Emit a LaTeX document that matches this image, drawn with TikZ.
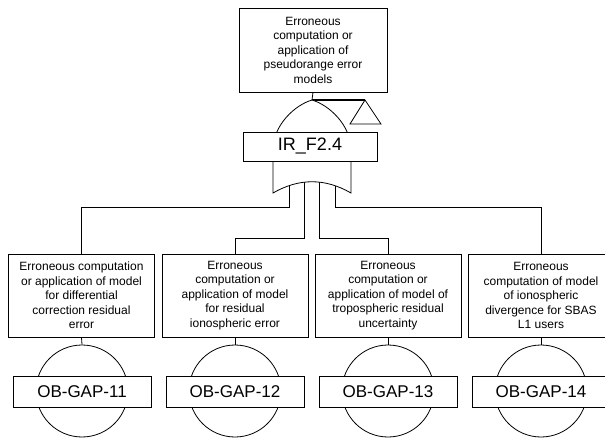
\documentclass[tikz,border=0pt]{standalone}
\usepackage{fontspec}
\setmainfont{Liberation Sans}
\begin{document}
\begin{tikzpicture}[x=1pt,y=-1pt,
  evbox/.style={draw, line width=0.8pt, fill=white, minimum width=146pt, minimum height=83pt,
    align=center, font=\fontsize{12}{14.5}\selectfont, inner sep=0pt},
  oblabel/.style={draw, line width=0.8pt, fill=white, minimum width=138pt, minimum height=31pt,
    font=\fontsize{17}{20}\selectfont, inner sep=0pt},
  basic/.style={draw, circle, line width=0.8pt, minimum size=92pt, inner sep=0pt},
  conn/.style={line width=1pt},
  thin/.style={line width=0.8pt}]
\useasboundingbox (0,0) rectangle (605,438);

% top event
\node[evbox, minimum width=148pt, minimum height=84pt] (top) at (313,50)
  {Erroneous\\computation or\\application of\\pseudorange error\\models};

% bottom events
\node[evbox] (b1) at (81.5,295.5) {Erroneous computation\\or application of model\\for differential\\correction residual\\error};
\node[evbox] (b2) at (235,295.5) {Erroneous\\computation or\\application of model\\for residual\\ionospheric error};
\node[evbox] (b3) at (388,295.5) {Erroneous\\computation or\\application of model of\\tropospheric residual\\uncertainty};
\node[evbox] (b4) at (541,295.5) {Erroneous\\computation of model\\of ionospheric\\divergence for SBAS\\L1 users};

% gate coordinates
\coordinate (gtop) at (312,100);
\coordinate (triapex) at (365,100);
\coordinate (g1) at (289,180);
\coordinate (g2) at (304,180);
\coordinate (g3) at (319,180);
\coordinate (g4) at (335,180);

% connectors from gate to events
\draw[conn] (g1) -- ++(0,28) -| (b1.north);
\draw[conn] (g2) -- ++(0,59) -| (b2.north);
\draw[conn] (g3) -- ++(0,59) -| (b3.north);
\draw[conn] (g4) -- ++(0,28) -| (b4.north);

% top connector and transfer triangle
\draw[thin] (top.south) -- (gtop);
\draw[line width=2pt] (gtop) -- (triapex);
\draw[thin] (triapex) -- (350,124) -- (381,124) -- cycle;

% OR gate
\draw[thin, fill=white] (273,193) -- (273,150)
  .. controls (273,125) and (295,105) .. (gtop)
  .. controls (329,105) and (351,125) .. (351,150)
  -- (351,193) .. controls (325,178) and (299,178) .. cycle;

\node[draw, line width=0.8pt, fill=white, minimum width=134pt, minimum height=29pt,
  font=\fontsize{18}{21}\selectfont, inner sep=0pt] (ir) at (310,146.5) {IR\_F2.4};

% basic events
\node[basic] (c1) at (82,391) {};
\node[basic] (c2) at (235,391) {};
\node[basic] (c3) at (388,391) {};
\node[basic] (c4) at (541,391) {};
\draw[thin] (b1.south) -- (c1.north);
\draw[thin] (b2.south) -- (c2.north);
\draw[thin] (b3.south) -- (c3.north);
\draw[thin] (b4.south) -- (c4.north);

\node[oblabel] (o1) at (82,391.5) {OB-GAP-11};
\node[oblabel] (o2) at (235,391.5) {OB-GAP-12};
\node[oblabel] (o3) at (388,391.5) {OB-GAP-13};
\node[oblabel] (o4) at (541,391.5) {OB-GAP-14};
\end{tikzpicture}
\end{document}
